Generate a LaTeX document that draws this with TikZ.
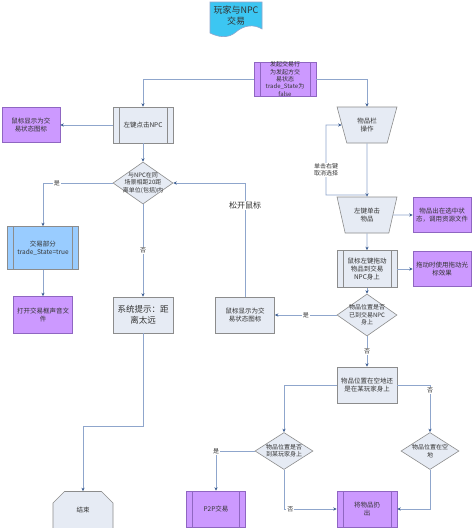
\documentclass[tikz,border=0pt]{standalone}
\usepackage{fontspec}
\setmainfont{Noto Sans CJK SC}
\usetikzlibrary{shapes.geometric,shapes.misc,arrows.meta}
\definecolor{purp}{HTML}{CC99FF}
\definecolor{purpd}{HTML}{8F66C2}
\definecolor{lite}{HTML}{E6EBF4}
\definecolor{blu}{HTML}{99CCFF}
\definecolor{cyanT}{HTML}{3CC6F2}
\definecolor{ln}{HTML}{8FA6CC}
\definecolor{tipc}{HTML}{3E5F93}
\definecolor{bord}{HTML}{8C8C8C}
\definecolor{txt}{HTML}{333333}
\tikzset{
  base/.style={line width=0.6pt, inner sep=1pt, align=center, text=txt,
    font=\fontsize{6.5}{8}\selectfont},
  purple/.style={fill=purp, draw=purpd},
  light/.style={fill=lite, draw=bord},
  bluebox/.style={fill=blu, draw=bord},
  pp/.style={path picture={\draw[#1, line width=0.6pt]
      ([xshift=6pt]path picture bounding box.north west) -- ([xshift=6pt]path picture bounding box.south west)
      ([xshift=-6pt]path picture bounding box.north east) -- ([xshift=-6pt]path picture bounding box.south east);}},
  sz/.style 2 args={minimum width=#1, minimum height=#2},
  trap/.style={trapezium, trapezium angle=72, shape border rotate=180,
    trapezium stretches=true, sz={60pt}{36pt}},
  dia/.style={diamond, inner sep=0pt},
  lbl/.style={align=center, text=txt, inner sep=0pt, font=\fontsize{6}{7.4}\selectfont},
  conn/.style={draw=ln, line width=0.7pt},
  arr/.style={conn, -{Stealth[length=3.5pt, width=3.2pt, color=tipc]}},
  lab/.style={fill=white, inner sep=1pt, text=txt, font=\fontsize{6}{7}\selectfont},
}
\begin{document}
\begin{tikzpicture}[x=1pt, y=-1pt]
\useasboundingbox[fill=white] (0,0) rectangle (474,528);
% title
\draw[fill=cyanT, draw=ln, line width=0.6pt] (210,2) -- (262,2) -- (262,29)
  .. controls (254,24) and (244,25) .. (236,32) .. controls (228,39) and (218,37) .. (210,33) -- cycle;
\node[text=txt, align=center, font=\fontsize{9}{11}\selectfont] (title) at (236,16) {玩家与NPC\\交易};

% nodes
\node[base, purple, pp=purpd, sz={62pt}{34pt},
  label={[lbl]center:{发起交易行\\为发起方交\\易状态\\trade\_State为\\false}}] (tp) at (285,79) {};
\node[base, light, pp=bord, sz={60pt}{36pt}] (lnpc) at (143,125) {左键点击NPC};
\node[base, purple, sz={58pt}{35pt}] (ms1) at (31,125) {鼠标显示为交\\易状态图标};
\node[base, light, dia, sz={60pt}{42pt},
  label={[lbl]center:{与NPC在同\\场景相距20距\\离单位(包括)内}}] (d1) at (143,183) {};
\node[base, bluebox, pp=bord, sz={71pt}{43pt}] (trade) at (43,248) {交易部分\\trade\_State=true};
\node[base, purple, sz={59pt}{37pt}] (sound) at (43,315) {打开交易框声音文\\件};
\node[base, light, sz={60pt}{36pt}, font=\fontsize{8.5}{11}\selectfont] (sys) at (143,315) {系统提示：距\\离太远};
\node[base, light, chamfered rectangle, chamfered rectangle corners={north west,north east},
  chamfered rectangle xsep=10pt, chamfered rectangle ysep=10pt, sz={60pt}{37pt}] (end) at (83,510) {结束};
\node[base, light, sz={59pt}{36pt}] (ms2) at (245,315) {鼠标显示为交\\易状态图标};

\node[base, light, trap] (inv) at (367,125) {物品栏\\操作};
\node[base, light, trap] (click) at (367,215) {左键单击\\物品};
\node[base, purple, sz={58pt}{35pt}] (sel) at (442,215) {物品出在选中状\\态，调用资源文件};
\node[base, light, pp=bord, sz={60pt}{37pt}] (drag) at (367,269) {鼠标左键拖动\\物品到交易\\NPC身上};
\node[base, purple, sz={58pt}{35pt}] (dcur) at (442,269) {拖动时使用拖动光\\标效果};
\node[base, light, dia, sz={60pt}{42pt},
  label={[lbl]center:{物品位置是否\\已到交易NPC\\身上}}] (d2) at (367,315) {};
\node[base, light, sz={60pt}{36pt}] (where) at (367,385) {物品位置在空地还\\是在某玩家身上};
\node[base, light, dia, sz={58pt}{37pt},
  label={[lbl]center:{物品位置是否\\到某玩家身上}}] (d3) at (284,451) {};
\node[base, light, dia, sz={58pt}{37pt},
  label={[lbl]center:{物品位置在空\\地}}] (d4) at (430,451) {};
\node[base, purple, pp=purpd, sz={59pt}{36pt}] (p2p) at (216,509) {P2P交易};
\node[base, purple, pp=purpd, sz={60pt}{36pt}] (drop) at (367,509) {将物品扔\\出};

% connectors
\draw[arr] (tp.west) -| (lnpc.north);
\draw[arr] (tp.east) -| (inv.north);
\draw[arr] (lnpc.west) -- (ms1.east);
\draw[arr] (lnpc.south) -- (d1.north);
\draw[arr] (d1.west) -| node[lab, pos=0.4] {是} (trade.north);
\draw[arr] (trade.south) -- (sound.north);
\draw[arr] (d1.south) -- node[lab, pos=0.5] {否} (sys.north);
\coordinate (e1) at (143,426);
\coordinate (e2) at (83,426);
\draw[arr] (sys.south) -- (e1) -- (e2) -- (end.north);
\draw[arr] (ms2.north) |- node[lab, pos=0.4, font=\fontsize{8}{9}\selectfont] {松开鼠标} (d1.east);
\draw[arr] (d2.west) -- node[lab, pos=0.5] {是} (ms2.east);
\draw[arr] (inv.south) -- (click.north);
\coordinate (lp) at (367,195);
\coordinate (lpa) at (326,195);
\coordinate (lpb) at (326,125);
\draw[arr] (lp) -- (lpa) -- node[lab, pos=0.36, align=center] {单击右键\\取消选择} (lpb) -- (inv);
\draw[arr] (click.east) -- (sel.west);
\draw[arr] (click.south) -- (drag.north);
\draw[arr] (drag.east) -- (dcur.west);
\draw[arr] (drag.south) -- (d2.north);
\draw[arr] (d2.south) -- node[lab, pos=0.5] {否} (where.north);
\draw[arr] (where.west) -| (d3.north);
\draw[arr] (where.east) -| node[lab, pos=0.56] {否} (d4.north);
\draw[arr] (d3.west) -| node[lab, pos=0.5] {是} (p2p.north);
\draw[arr] (d3.south) |- node[lab, pos=0.56] {否} (drop.west);
\draw[arr] (d4.south) |- (drop.east);
\end{tikzpicture}
\end{document}
